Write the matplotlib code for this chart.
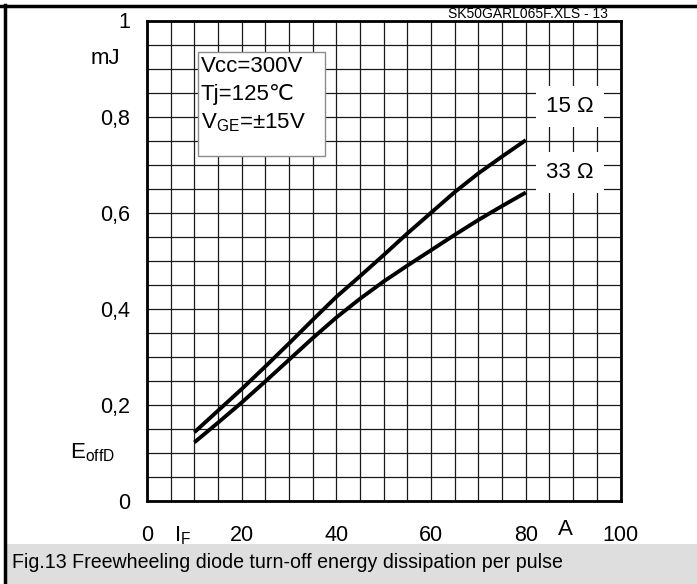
import matplotlib
matplotlib.use("Agg")
import matplotlib.pyplot as plt
import numpy as np
from matplotlib.lines import Line2D
from matplotlib.patches import Rectangle

plt.rcParams["font.family"] = ["Liberation Sans", "DejaVu Sans"]
plt.rcParams["mathtext.fontset"] = "custom"
plt.rcParams["mathtext.rm"] = "Liberation Sans"
plt.rcParams["mathtext.it"] = "Liberation Sans"

# forward current I_F [A] and turn-off energy E_offD [mJ]
IF = [10, 15, 20, 25, 30, 35, 40, 45, 50, 55, 60, 65, 70, 75, 80]
E_15 = [0.143, 0.188, 0.233, 0.280, 0.328, 0.377, 0.425, 0.468, 0.512, 0.557,
        0.600, 0.643, 0.682, 0.717, 0.751]
E_33 = [0.122, 0.163, 0.205, 0.249, 0.294, 0.339, 0.382, 0.421, 0.457, 0.490,
        0.522, 0.554, 0.585, 0.614, 0.642]
SERIES = ["15 Ω", "33 Ω"]

X_TICKS = [0, 20, 40, 60, 80, 100]
Y_TICKS = [0, 0.2, 0.4, 0.6, 0.8, 1.0]
Y_LABELS = ["0", "0,2", "0,4", "0,6", "0,8", "1"]

W, H = 697, 584
fig = plt.figure(figsize=(W / 100, H / 100), dpi=100)
ax = fig.add_axes([147 / W, 1 - 501 / H, (620.5 - 147) / W, (501 - 20.5) / H])

ax.set_xlim(0, 100)
ax.set_ylim(0, 1)
ax.set_xticks(X_TICKS)
ax.set_xticks(np.arange(0, 101, 5), minor=True)
ax.set_yticks(Y_TICKS)
ax.set_yticklabels(Y_LABELS)
ax.set_yticks(np.arange(0, 1.001, 0.05), minor=True)
ax.grid(which="both", color="#1a1a1a", lw=0.9, zorder=1)
ax.tick_params(which="both", length=0, labelsize=15.5)
ax.tick_params(axis="y", pad=12)
ax.tick_params(axis="x", pad=17)
for s in ax.spines.values():
    s.set_linewidth(2.0)
    s.set_zorder(5)

ax.plot(IF, E_15, color="black", lw=2.8, zorder=4, solid_capstyle="butt")
ax.plot(IF, E_33, color="black", lw=2.8, zorder=4, solid_capstyle="butt")

lab_kw = dict(ha="center", va="center", fontsize=16, zorder=6,
              bbox=dict(boxstyle="square,pad=0.45", fc="white", ec="none"))
ax.text(89.3, 0.82, SERIES[0], **lab_kw)
ax.text(89.3, 0.683, SERIES[1], **lab_kw)

# condition box
ax.add_patch(Rectangle((10.8, 0.717), 26.8, 0.218, fc="white", ec="#8c8c8c",
                       lw=1.0, zorder=6))
ax.text(11.3, 0.905, "Vcc=300V", fontsize=16, va="center", zorder=7)
ax.text(11.3, 0.847, "Tj=125℃", fontsize=16, va="center", zorder=7)
ax.text(11.3, 0.787, r"V$_{\mathrm{GE}}$=±15V", fontsize=16, va="center", zorder=7)

# axis unit labels sitting in the tick label rows
xtr = ax.get_xaxis_transform()
ax.text(-0.057, 0.92, "mJ", transform=ax.transAxes, ha="right", va="center",
        fontsize=16)
ax.text(-0.067, 0.1, r"E$_{\mathrm{offD}}$", transform=ax.transAxes,
        ha="right", va="center", fontsize=16)
ax.text(7.6, -0.073, r"I$_{\mathrm{F}}$", transform=xtr, ha="center",
        va="center", fontsize=16)
ax.text(88.3, -0.06, "A", transform=xtr, ha="center", va="center",
        fontsize=16)

fig.text(608 / W, 1 - 18.5 / H, "SK50GARL065F.XLS - 13", ha="right",
         va="baseline", fontsize=10)

# page frame and caption band
fig.add_artist(Rectangle((6 / W, 0), 1, 40 / H, transform=fig.transFigure,
                         fc="#dedede", ec="none", zorder=0))
fig.add_artist(Line2D([0, 1], [1 - 6 / H, 1 - 6 / H], transform=fig.transFigure,
                      color="black", lw=2.5))
fig.add_artist(Line2D([5 / W, 5 / W], [0, 1 - 5 / H], transform=fig.transFigure,
                      color="black", lw=2.5))
fig.text(12 / W, 1 - 563 / H,
         "Fig.13 Freewheeling diode turn-off energy dissipation per pulse",
         ha="left", va="center", fontsize=14.1)

fig.savefig("out.png", dpi=100)
